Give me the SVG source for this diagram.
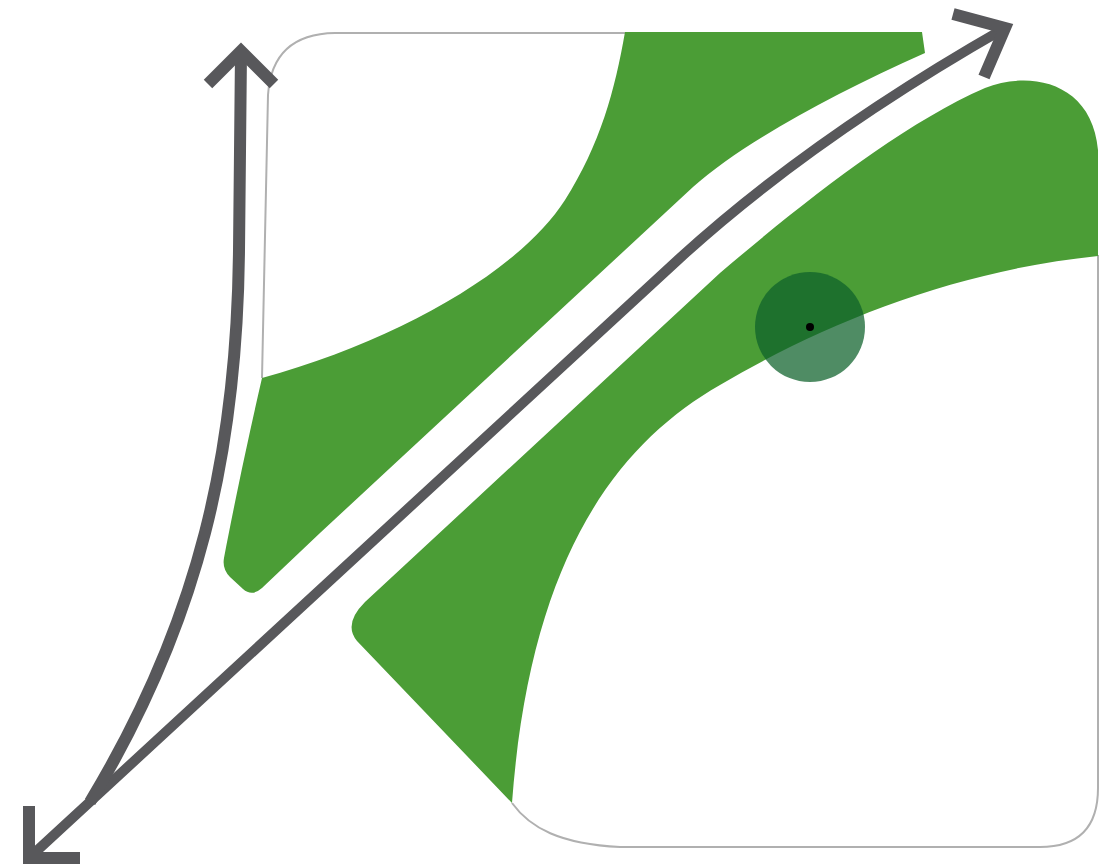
<svg xmlns="http://www.w3.org/2000/svg" width="1104" height="866" viewBox="0 0 1104 866">
<style>
.green{fill:#4b9d36;stroke:none}
.outline{fill:none;stroke:#b0b0b0;stroke-width:2}
.arrow{fill:none;stroke:#58585b;stroke-width:10;stroke-linecap:butt;stroke-linejoin:miter}
.arrow-thick{fill:none;stroke:#58585b;stroke-width:12;stroke-linecap:butt}
.head{fill:none;stroke:#58585b;stroke-width:12;stroke-linecap:butt;stroke-linejoin:miter;stroke-miterlimit:10}
</style>
<rect width="1104" height="866" fill="#ffffff"/>
<g id="outline">
<path class="outline" d="M262,378 C264,250 266,150 268,95 Q272,34 335,33 L625,33"/>
<path class="outline" d="M1098,255 L1098,788 Q1098,847 1040,847 L620,847 C560,844 530,828 512,803"/>
</g>
<g id="green-upper-left">
<path class="green" d="M625,32 L922,32 L925,53 C830,95 740,145 693,187 L320,533 L262,588 Q252,597 243,589 L230,577 Q222,569 224,558 C235,500 250,430 262,378 C400,340 520,270 565,200 C600,145 615,90 625,32 Z"/>
</g>
<g id="green-lower-right">
<path class="green" d="M365,602 L720,273 C800,205 900,125 985,88 C1030,70 1092,82 1098,150 L1098,256 C960,270 830,320 720,385 C615,445 530,560 512,803 L357,641 Q343,624 365,602 Z"/>
</g>
<g id="marker-circle">
<circle cx="810" cy="327" r="55" fill="#0e612a" fill-opacity="0.73"/>
<circle cx="810" cy="327" r="4" fill="#000000"/>
</g>
<g id="connectors">
<path class="arrow" d="M29,858 L680,258 C760,185 870,105 1005,28"/>
<path class="head" d="M953,14 L1005,28 L984,77"/>
<path class="arrow-thick" d="M241,52 L239,250 C237,450 200,620 90,802"/>
<path class="head" d="M208,84 L241,51 L274,84"/>
<path class="head" d="M29,806 L29,858 L80,858"/>
</g>
</svg>
